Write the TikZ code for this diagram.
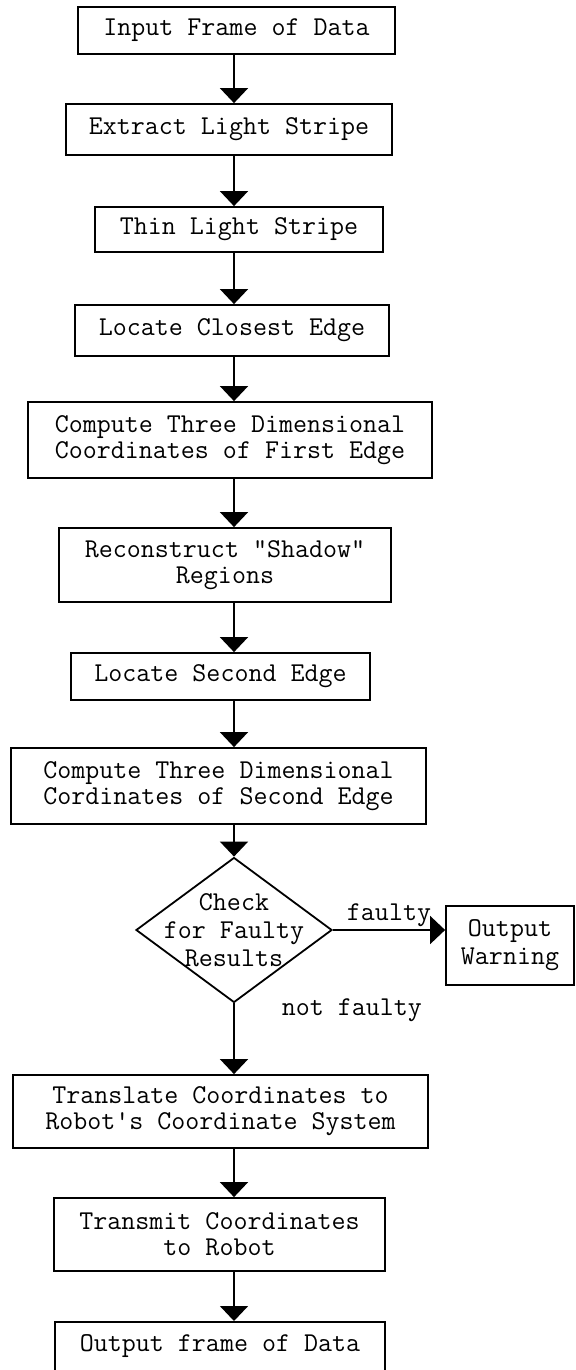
\documentclass[tikz,border=0pt]{standalone}
\usepackage{fontspec}
\usetikzlibrary{arrows.meta,shapes.geometric}

\tikzset{
  stepbox/.style={draw, line width=0.9pt, inner sep=2pt, align=center,
    font=\ttfamily\fontsize{13.6}{13}\selectfont},
  tag/.style={inner sep=0pt, font=\ttfamily\fontsize{13.6}{13}\selectfont},
  flow/.style={-{Triangle[length=7.5pt,width=14pt]}, line width=0.9pt},
}

\def\spineX{234}

\begin{document}
\begin{tikzpicture}[x=0.5pt, y=-0.5pt]
  \useasboundingbox (0,0) rectangle (576,1370);
  \coordinate (spine) at (\spineX,0);

  % main column of steps
  \node[stepbox, minimum width=158.5pt, minimum height=23.5pt] (input) at (236.5,30.5) {Input Frame of Data};
  \node[stepbox, minimum width=163pt, minimum height=25.5pt] (extract) at (229,129.5) {Extract Light Stripe};
  \node[stepbox, minimum width=144pt, minimum height=22.5pt] (thin) at (239,229.5) {Thin Light Stripe};
  \node[stepbox, minimum width=157pt, minimum height=25.5pt] (closest) at (232,330.5) {Locate Closest Edge};
  \node[stepbox, minimum width=202pt, minimum height=38pt] (firstedge) at (230,440) {Compute Three Dimensional\\Coordinates of First Edge};
  \node[stepbox, minimum width=166pt, minimum height=37pt] (shadow) at (225,565) {Reconstruct "Shadow"\\Regions};
  \node[stepbox, minimum width=149.5pt, minimum height=23.5pt] (second) at (220.5,676.5) {Locate Second Edge};
  \node[stepbox, minimum width=207.5pt, minimum height=38pt] (secondedge) at (218.5,786) {Compute Three Dimensional\\Cordinates of Second Edge};

  % decision
  \node[draw, diamond, line width=0.9pt, inner sep=0pt, minimum width=98pt, minimum height=72.5pt] (check) at (\spineX,930) {};
  \node[tag, align=center] (checktxt) at (check.center) {Check\\[1pt]for Faulty\\[1pt]Results};
  \node[stepbox, minimum width=64pt, minimum height=39.5pt] (warn) at (510,945.5) {Output\\[1pt]Warning};

  \node[stepbox, minimum width=207.5pt, minimum height=36.5pt] (translate) at (220.5,1111.5) {Translate Coordinates to\\Robot's Coordinate System};
  \node[stepbox, minimum width=165.5pt, minimum height=36.5pt] (transmit) at (219.5,1234.5) {Transmit Coordinates\\to Robot};
  \node[stepbox, anchor=north, minimum width=165pt, inner ysep=0pt, text height=15pt, text depth=30pt] (outdata) at (220,1321) {Output frame of Data};

  % connectors
  \foreach \a/\b in {input/extract, extract/thin, thin/closest, closest/firstedge,
      firstedge/shadow, shadow/second, second/secondedge, secondedge/check,
      translate/transmit, transmit/outdata} {
    \draw[flow] (\a.south -| spine) -- (\b.north -| spine);
  }
  \draw[flow] (check.east) -- (check.east -| warn.west)
    node[tag, midway, above, yshift=1pt] (faultylbl) {faulty};
  \draw[flow] (check.south) -- (translate.north -| spine)
    node[tag, pos=0.1, anchor=west, xshift=23.5pt] (okaylbl) {not faulty};
\end{tikzpicture}
\end{document}
